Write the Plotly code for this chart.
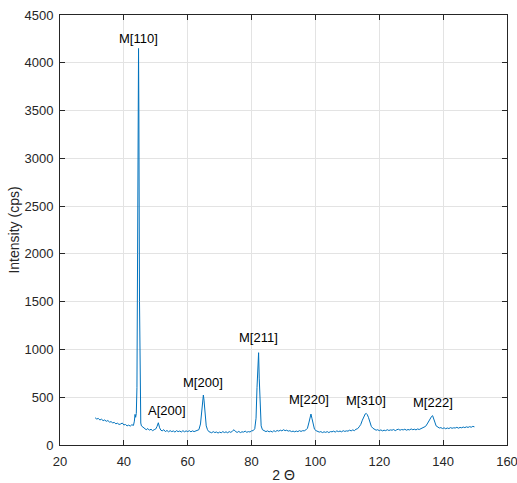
import plotly.graph_objects as go

two_theta = [31, 31.5, 32, 32.5, 33, 33.5, 34, 34.5, 35, 35.5, 36, 36.5, 37, 37.5, 38, 38.5, 39, 39.5,
             40, 40.5, 41, 41.5, 42, 42.5, 43, 43.3, 43.5, 43.7, 43.9, 44.1, 44.3, 44.5, 44.6, 44.7, 44.9,
             45.1, 45.3, 45.5, 46, 46.5, 47, 47.5, 48, 48.5, 49, 49.5, 50, 50.4, 50.8, 51.2, 51.6, 52,
             52.5, 53, 53.5, 54, 54.5, 55, 55.5, 56, 56.5, 57, 57.5, 58, 58.5, 59, 59.5, 60, 60.5, 61,
             61.5, 62, 62.5, 63, 63.5, 64, 64.4, 64.7, 64.9, 65.1, 65.4, 65.8, 66.2, 66.6, 67, 67.5, 68,
             68.5, 69, 69.5, 70, 70.5, 71, 71.5, 72, 72.5, 73, 73.5, 74, 74.5, 75, 75.5, 76, 76.5, 77,
             77.5, 78, 78.5, 79, 79.5, 80, 80.5, 81, 81.4, 81.7, 82.0, 82.2, 82.4, 82.7, 83.0, 83.4, 84,
             84.5, 85, 85.5, 86, 86.5, 87, 87.5, 88, 88.5, 89, 89.5, 90, 90.5, 91, 91.5, 92, 92.5, 93,
             93.5, 94, 94.5, 95, 95.5, 96, 96.5, 97, 97.5, 98, 98.3, 98.6, 98.9, 99.3, 99.7, 100.2,
             100.7, 101.2, 101.7, 102.2, 102.7, 103.2, 103.7, 104.2, 104.7, 105.2, 105.7, 106.2, 106.7,
             107.2, 107.7, 108.2, 108.7, 109.2, 109.7, 110.2, 110.7, 111.2, 111.7, 112.2, 112.7, 113.2,
             113.7, 114.2, 114.7, 115.2, 115.6, 115.9, 116.2, 116.6, 117.0, 117.5, 118, 118.5, 119,
             119.5, 120, 120.5, 121, 121.5, 122, 122.5, 123, 123.5, 124, 124.5, 125, 125.5, 126, 126.5,
             127, 127.5, 128, 128.5, 129, 129.5, 130, 130.5, 131, 131.5, 132, 132.5, 133, 133.5, 134,
             134.5, 135, 135.5, 136, 136.4, 136.7, 137, 137.4, 137.8, 138.3, 138.8, 139.3, 139.8, 140.3,
             140.8, 141.3, 141.8, 142.3, 142.8, 143.3, 143.8, 144.3, 144.8, 145.3, 145.8, 146.3, 146.8,
             147.3, 147.8, 148.3, 148.8, 149.3, 149.8]

intensity = [285, 272, 278, 262, 270, 255, 262, 248, 256, 240, 244, 232, 236, 222, 228, 215, 220, 230,
             210, 215, 200, 208, 198, 212, 205, 250, 320, 290, 330, 600, 2000, 3800, 4150, 3500, 1500,
             450, 230, 200, 185, 170, 160, 172, 155, 165, 150, 160, 168, 195, 233, 180, 155, 148,
             160, 140, 152, 138, 150, 140, 147, 135, 150, 140, 146, 136, 150, 138, 148, 140, 150, 138,
             148, 140, 145, 150, 160, 220, 350, 480, 523, 470, 320, 200, 160, 140, 135, 128, 140,
             130, 136, 125, 135, 128, 140, 130, 138, 128, 140, 132, 145, 160, 140, 132, 142, 130, 138,
             135, 145, 133, 140, 136, 148, 150, 170, 280, 600, 900, 966, 700, 350, 200, 160, 150,
             140, 148, 138, 145, 136, 150, 140, 152, 145, 155, 148, 160, 150, 155, 145, 150, 140, 145,
             138, 146, 140, 150, 142, 150, 148, 158, 175, 240, 300, 324, 280, 200, 165, 150,
             140, 135, 140, 130, 138, 132, 140, 130, 140, 138, 145, 135, 148,
             140, 146, 138, 150, 142, 148, 145, 155, 148, 158, 150, 165, 170,
             190, 215, 260, 300, 325, 331, 320, 290, 240, 195, 175, 165, 155,
             160, 150, 158, 148, 155, 150, 160, 152, 158, 155, 162, 150, 160, 165, 155,
             162, 158, 165, 155, 162, 158, 168, 160, 165, 158, 168, 162, 170, 175, 185,
             195, 220, 250, 285, 300, 307, 285, 240, 200, 185, 178, 182, 172, 180,
             170, 178, 172, 182, 175, 180, 178, 185, 176, 184, 180, 188, 182,
             190, 184, 192, 186, 195, 190]

peak_labels = ["M[110]", "A[200]", "M[200]", "M[211]", "M[220]", "M[310]", "M[222]"]
label_x = [44.6, 53.4, 64.7, 82.3, 98.1, 115.8, 136.7]
label_y = [4257, 366, 652, 1120, 481, 464, 447]

x_ticks = [20, 40, 60, 80, 100, 120, 140, 160]
y_ticks = [0, 500, 1000, 1500, 2000, 2500, 3000, 3500, 4000, 4500]

FONT = "Liberation Sans, Arial, sans-serif"
AXC = "#262626"

fig = go.Figure()
fig.add_trace(go.Scatter(x=two_theta, y=intensity, mode="lines",
                         line=dict(color="#0072BD", width=1), showlegend=False))

for t, lx, ly in zip(peak_labels, label_x, label_y):
    fig.add_annotation(x=lx, y=ly, text=t, showarrow=False, xanchor="center", yanchor="middle",
                       font=dict(family=FONT, size=13, color="#000000"))

axis_common = dict(showline=True, linecolor=AXC, linewidth=1, mirror="ticks", ticks="inside",
                   ticklen=5, tickcolor=AXC, showgrid=True, gridcolor="#e3e3e3", gridwidth=1,
                   zeroline=False, automargin=False, ticklabeloverflow="allow",
                   tickfont=dict(family=FONT, size=13, color=AXC))

fig.update_xaxes(range=[20, 160], tickvals=x_ticks, ticktext=[str(v) for v in x_ticks],
                 title=dict(text="2 Θ", font=dict(family=FONT, size=14, color=AXC), standoff=6),
                 ticklabelstandoff=4, **axis_common)
fig.update_yaxes(range=[0, 4500], tickvals=y_ticks, ticktext=[str(v) for v in y_ticks],
                 title=dict(text="Intensity (cps)", font=dict(family=FONT, size=14, color=AXC), standoff=1),
                 ticklabelstandoff=3, **axis_common)

fig.update_layout(width=517, height=483, margin=dict(l=60, r=10, t=15, b=38),
                  plot_bgcolor="white", paper_bgcolor="white")

fig.write_html("out.html")
